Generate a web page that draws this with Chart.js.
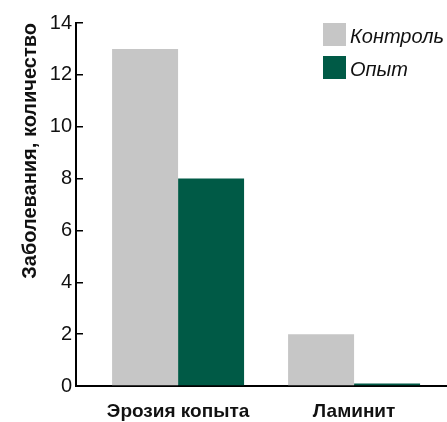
<!DOCTYPE html>
<html>
<head>
<meta charset="utf-8">
<script src="https://cdn.jsdelivr.net/npm/chart.js@4/dist/chart.umd.min.js"></script>
<style>
  html, body { margin: 0; padding: 0; background: #fff; }
  #wrap { width: 447px; height: 422px; position: relative; }
</style>
</head>
<body>
<div id="wrap"><canvas id="c" width="447" height="422"></canvas></div>
<script>
// Disease counts per group
const categories = ['Эрозия копыта', 'Ламинит'];
const controlValues = [13, 2];
const trialValues = [8, 0.1];
const seriesNames = ['Контроль', 'Опыт'];
const seriesColors = ['#c6c6c6', '#005a46'];
const yTicks = [0, 2, 4, 6, 8, 10, 12, 14];

const toPoints = vals => vals.map((v, i) => ({ x: i, y: v }));

// Legend drawn in the upper right corner of the plot
const cornerLegend = {
  id: 'cornerLegend',
  afterDraw(chart) {
    const ctx = chart.ctx;
    const x0 = 323, y0 = 23, box = 23, gap = 33;
    ctx.save();
    ctx.font = 'italic 20px "Liberation Sans", Arial, sans-serif';
    ctx.textBaseline = 'alphabetic';
    ctx.textAlign = 'left';
    chart.data.datasets.forEach((ds, i) => {
      const y = y0 + i * gap;
      ctx.fillStyle = ds.backgroundColor;
      ctx.fillRect(x0, y, box, box);
      ctx.fillStyle = '#111';
      ctx.fillText(ds.label, x0 + box + 4, y + 20);
    });
    ctx.restore();
  }
};

new Chart(document.getElementById('c'), {
  type: 'bar',
  data: {
    datasets: [
      { label: seriesNames[0], data: toPoints(controlValues), backgroundColor: seriesColors[0] },
      { label: seriesNames[1], data: toPoints(trialValues), backgroundColor: seriesColors[1] }
    ]
  },
  options: {
    responsive: false,
    animation: false,
    layout: { padding: { top: 23, right: 0, left: 0, bottom: 0 } },
    // the half-step tick halves the sample spacing, hence 1.5
    datasets: { bar: { categoryPercentage: 1.5, barPercentage: 1.0 } },
    plugins: { legend: { display: false }, tooltip: { enabled: false } },
    scales: {
      x: {
        type: 'linear',
        min: -0.58,
        max: 1.528,
        offset: false,
        afterBuildTicks(scale) {
          scale.ticks = [{ value: 0 }, { value: 0.5 }, { value: 1 }];
        },
        afterFit(scale) { scale.height = 36; },
        border: { display: true, color: '#000', width: 2 },
        grid: {
          drawOnChartArea: false,
          drawTicks: true,
          tickLength: -8,
          lineWidth: 1.5,
          color: ctx => (ctx.tick && ctx.tick.value === 0.5) ? '#000' : 'rgba(0,0,0,0)'
        },
        ticks: {
          autoSkip: false,
          maxRotation: 0,
          padding: 22,
          color: '#111',
          font: { family: '"Liberation Sans", Arial, sans-serif', size: 19, weight: 'bold' },
          callback: v => Number.isInteger(v) ? categories[v] : ''
        }
      },
      y: {
        min: 0,
        max: 14,
        afterBuildTicks(scale) {
          scale.ticks = yTicks.map(v => ({ value: v }));
        },
        afterFit(scale) { scale.width = 76; },
        border: { display: true, color: '#000', width: 2 },
        grid: {
          drawOnChartArea: false,
          drawTicks: true,
          tickLength: -7,
          lineWidth: 1.5,
          color: '#000'
        },
        ticks: {
          padding: 11,
          color: '#111',
          font: { family: '"Liberation Sans", Arial, sans-serif', size: 20 }
        },
        title: {
          display: true,
          text: 'Заболевания, количество',
          align: 'end',
          color: '#111',
          padding: { top: 18, bottom: 0 },
          font: { family: '"Liberation Sans", Arial, sans-serif', size: 20, weight: 'bold' }
        }
      }
    }
  },
  plugins: [cornerLegend]
});
</script>
</body>
</html>
